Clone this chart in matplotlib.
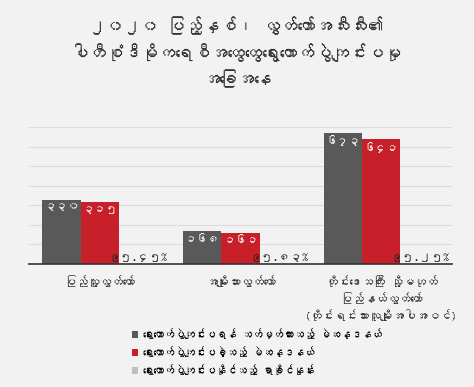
import matplotlib
matplotlib.use("Agg")
import matplotlib.pyplot as plt
import numpy as np
from matplotlib import font_manager
from matplotlib.ft2font import FT2Font

# data
categories = [
    "ပြည်သူ့လွှတ်တော်",
    "အမျိုးသားလွှတ်တော်",
    "တိုင်းဒေသကြီး သို့မဟုတ်\nပြည်နယ်လွှတ်တော်\n(တိုင်းရင်းသားလူမျိုးအပါအဝင်)",
]
planned = [330, 168, 673]
held = [315, 161, 641]
held_pct = [95.45, 95.83, 95.25]
series_names = [
    "ရွေးကောက်ပွဲကျင်းပရန် သတ်မှတ်ထားသည့် မဲဆန္ဒနယ်",
    "ရွေးကောက်ပွဲကျင်းပခဲ့သည့် မဲဆန္ဒနယ်",
    "ရွေးကောက်ပွဲကျင်းပနိုင်သည့် ရာခိုင်နှုန်း",
]
title = "၂၀၂၀ ပြည့်နှစ်၊ လွှတ်တော်အသီးသီး၏\nပါတီစုံဒီမိုကရေစီအထွေထွေရွေးကောက်ပွဲကျင်းပမှု\nအခြေအနေ"

MM_DIGITS = str.maketrans("0123456789", "၀၁၂၃၄၅၆၇၈၉")


def mm(s):
    return str(s).translate(MM_DIGITS)


def find_myanmar_font():
    for f in font_manager.fontManager.ttflist:
        try:
            if 0x1000 in FT2Font(f.fname).get_charmap():
                return f.name
        except Exception:
            continue
    return None


mm_font = find_myanmar_font()
families = ([mm_font] if mm_font else []) + ["DejaVu Sans"]
plt.rcParams["font.family"] = families

bg = "#f2f2f2"
c_dark = "#595959"
c_red = "#c8202a"
c_light = "#bfbfbf"

fig = plt.figure(figsize=(4.74, 3.87), dpi=100, facecolor=bg)
ax = fig.add_axes([0.062, 0.318, 0.891, 0.353], facecolor=bg)

x = np.arange(len(categories))
w = 0.272
b1 = ax.bar(x - w, planned, w, color=c_dark, zorder=3, label=series_names[0])
b2 = ax.bar(x, held, w, color=c_red, zorder=3, label=series_names[1])
# third series is a percentage: draw it on a tiny scale so only its label shows
b3 = ax.bar(x + w, [p / 100 for p in held_pct], w, color=c_light, zorder=3,
            label=series_names[2])

for bars, vals in ((b1, planned), (b2, held)):
    for r, v in zip(bars, vals):
        ax.text(r.get_x() + r.get_width() / 2, v - 14, mm(v), ha="center",
                va="top", color="white", fontsize=8.5, fontweight="bold", zorder=4)
for r, p in zip(b3, held_pct):
    ax.text(r.get_x() + r.get_width() / 2, 8, mm(f"{p:.2f}") + "%", ha="center",
            va="bottom", color="#222222", fontsize=8.5, fontweight="bold", zorder=4)

ax.set_xlim(-0.5, len(categories) - 0.5)
ax.set_ylim(0, 700)
ax.set_yticks(np.arange(100, 701, 100))
ax.yaxis.grid(True, color="#dcdcdc", linewidth=0.8, zorder=0)
ax.tick_params(axis="y", left=False, labelleft=False)
ax.tick_params(axis="x", bottom=False, pad=5)
ax.set_xticks(x)
ax.set_xticklabels(categories, fontsize=8.5, color="#333333", linespacing=1.45)
for s in ("top", "right", "left"):
    ax.spines[s].set_visible(False)
ax.spines["bottom"].set_color("#333333")
ax.spines["bottom"].set_linewidth(1.2)
ax.spines["bottom"].set_zorder(5)

fig.text(0.5, 0.865, title, ha="center", va="center", fontsize=12.5,
         fontweight="bold", color="#333333", linespacing=1.5)

fig.legend(handles=[b1, b2, b3], loc="upper left", bbox_to_anchor=(0.27, 0.162),
           frameon=False, fontsize=7.5, handlelength=0.6, handleheight=0.6,
           handletextpad=0.4, labelspacing=0.7, borderaxespad=0)

fig.savefig("out.png", dpi=100, facecolor=bg)
